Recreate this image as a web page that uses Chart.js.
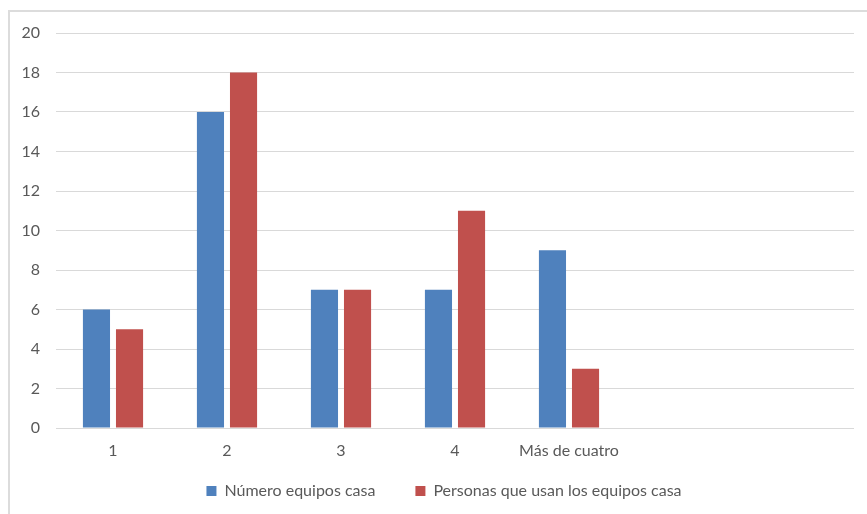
<!DOCTYPE html>
<html>
<head>
<meta charset="utf-8">
<script src="https://cdn.jsdelivr.net/npm/chart.js@4/dist/chart.umd.min.js"></script>
<style>
  html, body { margin: 0; padding: 0; background: #ffffff; overflow: hidden; }
  #wrap { position: relative; width: 867px; height: 514px; }
  #frame { position: absolute; left: 8px; top: 10px; width: 1000px; height: 1000px;
           border: 2px solid #dcdcdc; box-sizing: border-box; }
  canvas { position: absolute; left: 0; top: 0; }
</style>
</head>
<body>
<div id="wrap">
  <div id="frame"></div>
  <canvas id="c" width="867" height="514"></canvas>
</div>
<script>
// Categories (the last two slots are empty on the axis)
const categories = ['1', '2', '3', '4', 'Más de cuatro', '', ''];
const equiposCasa = [6, 16, 7, 7, 9, null, null];
const personasUsan = [5, 18, 7, 11, 3, null, null];
const seriesNames = ['Número equipos casa', 'Personas que usan los equipos casa'];
const yTicks = [0, 2, 4, 6, 8, 10, 12, 14, 16, 18, 20];

const textColor = '#595959';
const gridColor = '#d9d9d9';
const font = { family: 'Lato, "Open Sans", sans-serif', size: 16 };

// Keeps the legend compact in the layout and places its row under the axis labels
const legendPlacement = {
  id: 'legendPlacement',
  beforeLayout(chart) {
    const lg = chart.legend;
    if (lg && !lg._compactFit) {
      const fit = lg.fit.bind(lg);
      lg.fit = function () { fit(); this.height = 40; };
      lg._compactFit = true;
    }
  },
  afterLayout(chart) {
    const lg = chart.legend;
    if (!lg) return;
    lg.top = 443;
    lg.bottom = chart.height;
    lg.height = lg.bottom - lg.top;
    lg.left += 17;
    lg.right += 17;
  }
};

new Chart(document.getElementById('c'), {
  type: 'bar',
  data: {
    labels: categories,
    datasets: [
      { label: seriesNames[0], data: equiposCasa, backgroundColor: '#4f81bd' },
      { label: seriesNames[1], data: personasUsan, backgroundColor: '#c0504d' }
    ]
  },
  plugins: [legendPlacement],
  options: {
    responsive: false,
    animation: false,
    devicePixelRatio: 1,
    layout: { padding: { top: 33, right: 13, bottom: 10, left: 0 } },
    datasets: { bar: { barPercentage: 0.82, categoryPercentage: 0.58 } },
    scales: {
      x: {
        grid: { display: false, drawTicks: false },
        border: { display: false },
        ticks: { color: textColor, font: font, padding: 13, maxRotation: 0, autoSkip: false },
        afterFit: (s) => { s.height = 36; }
      },
      y: {
        min: 0,
        max: 20,
        afterBuildTicks: (s) => { s.ticks = yTicks.map(v => ({ value: v })); },
        grid: { color: gridColor, lineWidth: 1, drawTicks: false },
        border: { display: false },
        ticks: { color: textColor, font: font, padding: 16 },
        afterFit: (s) => { s.width = 56; }
      }
    },
    plugins: {
      legend: {
        position: 'bottom',
        labels: { color: textColor, font: font, boxWidth: 10, boxHeight: 10, padding: 40 }
      },
      tooltip: { enabled: false }
    }
  }
});
</script>
</body>
</html>
